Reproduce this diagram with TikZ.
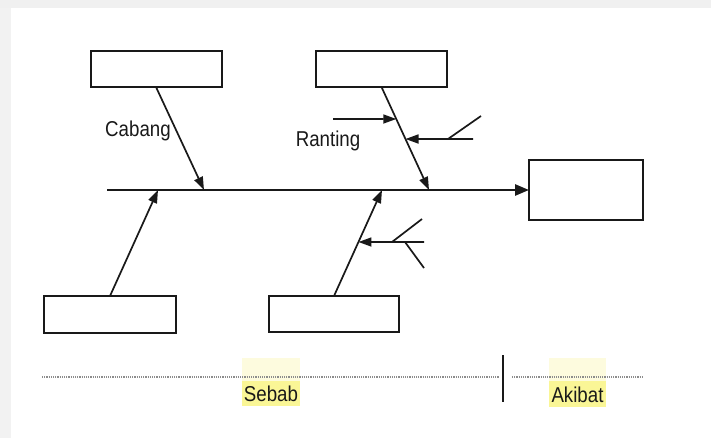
\documentclass[tikz,border=0pt]{standalone}
\usepackage{fontspec}
\setmainfont{Liberation Sans}[FakeStretch=0.87]
\usetikzlibrary{arrows.meta,calc}
\definecolor{hl}{RGB}{250,246,150}
\definecolor{hlpale}{RGB}{253,251,222}
\definecolor{ink}{RGB}{25,25,25}
\begin{document}
\begin{tikzpicture}[x=1pt,y=-1pt,
  box/.style={draw=ink, line width=2pt, minimum width=131pt, minimum height=36pt, inner sep=0pt, outer sep=0pt, fill=white},
  bone/.style={draw=ink, line width=1.7pt, -{Triangle[length=13pt,width=9pt]}},
  twig/.style={draw=ink, line width=1.7pt},
  lbl/.style={font=\fontsize{21.5}{25}\selectfont, text=ink, inner sep=0pt, anchor=base},
  dotline/.style={draw=gray!90, line width=1.3pt, dash pattern=on 1.2pt off 1pt},
]
\useasboundingbox (0,0) rectangle (711,438);
\fill[white] (0,0) rectangle (711,438);
% light page frame
\fill[gray!12] (0,0) rectangle (711,8);
\fill[gray!10] (0,8) rectangle (11,438);

% boxes
\node[box] (cause1) at (156,69) {};
\node[box] (cause2) at (381.5,69) {};
\node[box, minimum width=132pt, minimum height=37pt] (cause3) at (110,314.5) {};
\node[box, minimum width=130pt] (cause4) at (334,314) {};
\node[box, minimum width=114pt, minimum height=60pt] (effect) at (586,190) {};

% spine
\coordinate (tail) at (107,190);
\draw[bone, line width=2.6pt, -{Triangle[length=14pt,width=11pt]}] (tail) -- (effect.west);

% main bones
\coordinate (j1) at (204,190);
\coordinate (j2) at (429,190);
\coordinate (j3) at (158,190);
\coordinate (j4) at (382,190);
\draw[bone] (cause1.south) -- (j1);
\draw[bone] (cause2.south) -- (j2);
\draw[bone] (cause3.north) -- (j3);
\draw[bone] (cause4.north) -- (j4);

% twigs on the upper right bone
\coordinate (r1tail) at (333,119);
\coordinate (r1) at (intersection of cause2.south--j2 and 333,119--480,119);
\draw[bone] (r1tail) -- (r1);
\coordinate (r2tail) at (473,139);
\coordinate (r2) at (intersection of cause2.south--j2 and 473,139--300,139);
\draw[bone] (r2tail) -- (r2);
\coordinate (r2a) at (448,139);
\coordinate (r2b) at (481,116);
\draw[twig] (r2a) -- (r2b);

% twigs on the lower right bone
\coordinate (r3tail) at (424,242);
\coordinate (r3) at (intersection of cause4.north--j4 and 424,242--300,242);
\draw[bone] (r3tail) -- (r3);
\coordinate (r3a) at (392,242);
\coordinate (r3b) at (422,219);
\draw[twig] (r3a) -- (r3b);
\coordinate (r3c) at (405,242);
\coordinate (r3d) at (424,268);
\draw[twig] (r3c) -- (r3d);

% labels
\node[lbl] (cabang) at (138,137) {Cabang};
\node[lbl] (ranting) at (328,147) {Ranting};

% cause / effect scale
\fill[hlpale] (242,358) rectangle (300,381);
\fill[hl] (242,381) rectangle (300,406);
\fill[hlpale] (549,358) rectangle (606,381);
\fill[hl] (549,381) rectangle (606,407);
\coordinate (s1) at (42,377);
\coordinate (s2) at (499,377);
\coordinate (s3) at (512,377);
\coordinate (s4) at (643,377);
\draw[dotline] (s1) -- (s2);
\draw[dotline] (s3) -- (s4);
\coordinate (d1) at (503,355);
\coordinate (d2) at (503,402);
\draw[draw=ink, line width=1.6pt] (d1) -- (d2);
\node[lbl] (sebab) at (271,401) {Sebab};
\node[lbl] (akibat) at (577.5,402.5) {Akibat};
\end{tikzpicture}
\end{document}
